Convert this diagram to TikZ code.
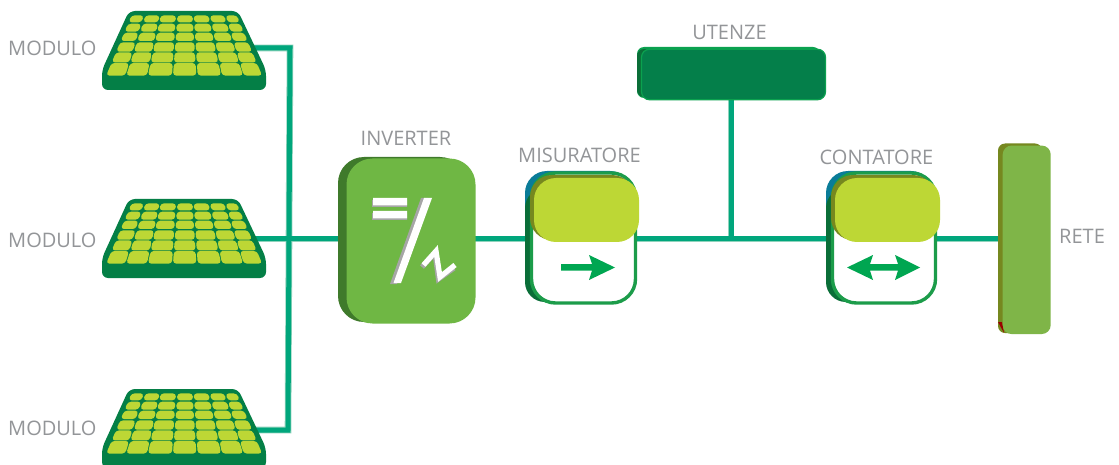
\documentclass[tikz,border=0pt]{standalone}
\usepackage{fontspec}
\setmainfont{Open Sans}
\definecolor{wire}{HTML}{00A67C}
\definecolor{wirelight}{HTML}{8FD3BC}
\definecolor{panelg}{HTML}{047F46}
\definecolor{cellg}{HTML}{BDD735}
\definecolor{labelg}{HTML}{939598}
\definecolor{invfront}{HTML}{6FB744}
\definecolor{invback}{HTML}{3F7A2B}
\definecolor{frameg}{HTML}{1C9C4A}
\definecolor{darkg}{HTML}{0A6E38}
\definecolor{tealb}{HTML}{0A7C98}
\definecolor{olive}{HTML}{76881F}
\definecolor{arrowg}{HTML}{00A651}
\definecolor{retef}{HTML}{7FB548}
\definecolor{utef}{HTML}{047F4A}
\definecolor{utes}{HTML}{0BA14F}
\tikzset{
  lab/.style={text=labelg,font=\fontsize{20}{24}\selectfont,inner sep=0pt},
  box/.style={rounded corners=#1,inner sep=0pt,outer sep=0pt},
  wirelight/.style={draw=wirelight,line width=6.6pt},
  wiremain/.style={draw=wire,line width=5pt},
  cell/.style={fill=cellg,rounded corners=3.2pt},
  garrow/.style={fill=arrowg,draw=none},
}
\newcommand{\solarpanel}[1]{%
\begin{scope}[yshift=-#1pt]
\fill[panelg,rounded corners=6pt] (129,11) -- (238,11) -- (266,70) -- (266,90) -- (102,90) -- (102,70) -- cycle;
\foreach \ya/\yb in {15.4/22.3,23.7/31.6,32.7/41,42.3/51.7,52.4/62.4,63/75.6}{
 \foreach \ta/\tb/\ba/\bb in {124/161/49/106,166/209/109/171,212/258/174/246,262/308/249/319,311/356/323/393,360/403/396/459,407/441/461/516}{
  \pgfmathsetmacro{\sa}{(\ya-15.7)/59.6}
  \pgfmathsetmacro{\sb}{(\yb-15.7)/59.6}
  \pgfmathsetmacro{\xa}{90+(\ta+(\ba-\ta)*\sa)/3}
  \pgfmathsetmacro{\xb}{90+(\tb+(\bb-\tb)*\sa)/3}
  \pgfmathsetmacro{\xc}{90+(\tb+(\bb-\tb)*\sb)/3}
  \pgfmathsetmacro{\xd}{90+(\ta+(\ba-\ta)*\sb)/3}
  \fill[cell] (\xa,\ya) -- (\xb,\ya) -- (\xc,\yb) -- (\xd,\yb) -- cycle;
 }}
\end{scope}}
\begin{document}
\begin{tikzpicture}[x=1pt,y=-1pt]
\useasboundingbox (0,0) rectangle (1119,465);
\fill[white] (0,0) rectangle (1119,465);
\coordinate (p1) at (250,48);
\coordinate (p2) at (250,239);
\coordinate (p3) at (250,430);
\coordinate (c1) at (290,48);
\coordinate (c3) at (288,430);
\coordinate (ju) at (731,239);
\coordinate (uu) at (731,98);
\coordinate (re) at (1000,239);
\foreach \s in {wirelight,wiremain}{
 \draw[\s] (p1) -- (c1) -- (c3) -- (p3);
 \draw[\s] (p2) -- (re);
 \draw[\s] (ju) -- (uu);
}
\solarpanel{0}
\solarpanel{188}
\solarpanel{378}
% inverter
\fill[invback,box=26pt] (338,157) rectangle (466,322);
\node[fill=invfront,box=26pt,minimum width=129pt,minimum height=165pt] (inv) at (411,241) {};
\fill[gray!70] (372,200) rectangle (407,207) (372,213) rectangle (407,220);
\fill[white] (373,198) rectangle (407,205.5) (373,211) rectangle (407,218.5);
\fill[gray!70] (421,198) -- (390,284) -- (397,284) -- (428,198) -- cycle;
\fill[white] (424,198) -- (393.5,283) -- (401,283) -- (432,198) -- cycle;
\draw[gray!70,line width=5.2pt,line join=miter] (422,267) -- (435,253) -- (438.5,279) -- (454,268);
\draw[white,line width=5.2pt,line join=miter] (423.5,265) -- (436,251) -- (440,277) -- (455,265);
% misuratore
\fill[tealb,box=22pt] (525,171) rectangle (632,240);
\fill[darkg,box=20pt] (525,188) rectangle (620,302);
\node[draw=frameg,line width=3.4pt,fill=white,box=24pt,minimum width=104pt,minimum height=130pt] (mis) at (583.5,238) {};
\fill[olive,box=22pt] (530,175) rectangle (634,240);
\node[fill=cellg,box=22pt,minimum width=105pt,minimum height=64pt] (mish) at (586.5,210) {};
\fill[garrow] (561,264) -- (592,264) -- (589,255) -- (615,267.5) -- (589,280) -- (592,270.5) -- (561,270.5) -- cycle;
% contatore
\fill[tealb,box=22pt] (826,171) rectangle (933,240);
\fill[darkg,box=20pt] (826,188) rectangle (921,302);
\node[draw=frameg,line width=3.4pt,fill=white,box=24pt,minimum width=103pt,minimum height=130pt] (con) at (884,238) {};
\fill[olive,box=22pt] (831,175) rectangle (935,240);
\node[fill=cellg,box=22pt,minimum width=105pt,minimum height=64pt] (conh) at (887.5,210) {};
\fill[garrow] (847,267.5) -- (873,255) -- (870,264) -- (898,264) -- (895,255) -- (920,267.5) -- (895,280) -- (898,270.5) -- (870,270.5) -- (873,280) -- cycle;
% rete
\fill[olive,box=7pt] (998,143.5) rectangle (1042,333);
\fill[red!60!black] (998,322) -- (1004,333) -- (1002,322) -- cycle;
\node[fill=retef,box=9pt,minimum width=48pt,minimum height=188.5pt] (rete) at (1026.7,239.8) {};
% utenze
\fill[utes,box=7pt] (637,47) rectangle (820,98);
\fill[darkg,box=7pt] (637,49) rectangle (660,97);
\node[draw=utes,fill=utef,line width=1.2pt,box=8pt,minimum width=184pt,minimum height=50.5pt] (ute) at (733.5,74.5) {};
% labels
\node[lab,anchor=west] (l1) at (8,48) {MODULO};
\node[lab,anchor=west] (l2) at (8,240) {MODULO};
\node[lab,anchor=west] (l3) at (8,428) {MODULO};
\node[lab] (l4) at (406,138) {INVERTER};
\node[lab] (l5) at (579.5,155) {MISURATORE};
\node[lab] (l6) at (729.5,32) {UTENZE};
\node[lab] (l7) at (876.5,157) {CONTATORE};
\node[lab,anchor=west] (l8) at (1059,236) {RETE};
\end{tikzpicture}
\end{document}
